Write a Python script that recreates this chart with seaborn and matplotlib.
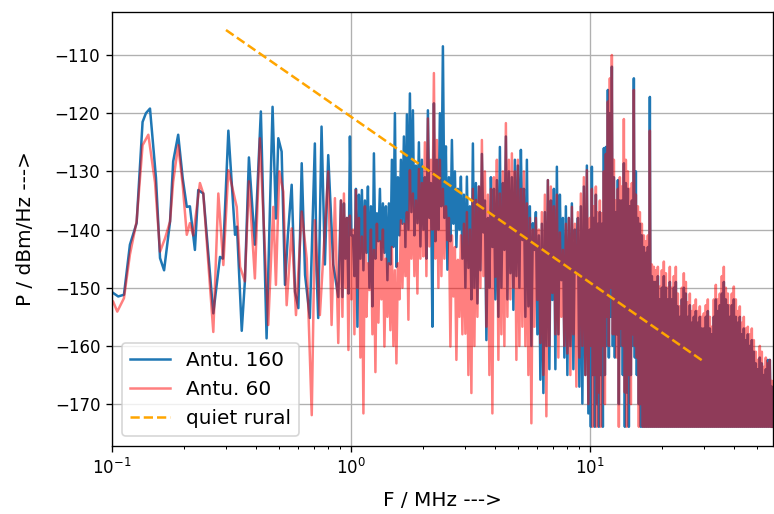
import numpy as np
import matplotlib
matplotlib.use("Agg")
import matplotlib.pyplot as plt
import seaborn as sns

# ---------------- data ----------------
# low band (0.1 .. ~0.9 MHz): log10(frequency / MHz) and level in dBm/Hz
blue_logf_lo = [-0.995, -0.974, -0.950, -0.925, -0.897, -0.872, -0.858, -0.841, -0.816, -0.799,
                -0.782, -0.757, -0.744, -0.723, -0.704, -0.687, -0.674, -0.653, -0.639, -0.618,
                -0.583, -0.576, -0.548, -0.536, -0.513, -0.485, -0.477, -0.457, -0.444, -0.427,
                -0.402, -0.377, -0.353, -0.328, -0.314, -0.304, -0.290, -0.276, -0.264, -0.248,
                -0.234, -0.220, -0.206, -0.192, -0.172, -0.151, -0.144, -0.137, -0.123, -0.109,
                -0.095, -0.074, -0.053]
blue_db_lo = [-150.9, -151.5, -151.2, -142.6, -138.9, -121.5, -120.0, -119.2, -131.1, -144.9,
              -147.0, -138.6, -128.3, -123.7, -131.2, -136.1, -136.0, -143.5, -133.2, -133.8,
              -151.0, -154.4, -144.7, -145.0, -123.0, -140.9, -139.5, -157.4, -149.0, -127.6,
              -142.6, -119.7, -158.7, -118.9, -138.1, -124.3, -126.6, -149.5, -141.0, -132.3,
              -150.7, -153.5, -128.6, -147.8, -155.2, -125.2, -147.0, -155.2, -122.3, -146.0,
              -127.2, -146.0, -151.6]

red_logf_lo = [-0.995, -0.978, -0.950, -0.925, -0.897, -0.872, -0.848, -0.820, -0.799, -0.778,
               -0.757, -0.744, -0.723, -0.704, -0.687, -0.674, -0.660, -0.632, -0.618, -0.576,
               -0.555, -0.534, -0.513, -0.478, -0.464, -0.444, -0.427, -0.402, -0.381, -0.346,
               -0.325, -0.314, -0.300, -0.283, -0.269, -0.248, -0.230, -0.206, -0.185, -0.164,
               -0.151, -0.130, -0.109, -0.095, -0.081, -0.067, -0.053]
red_db_lo = [-152.4, -154.1, -151.8, -144.3, -138.6, -125.5, -123.7, -131.9, -143.8, -141.5,
             -138.6, -131.8, -125.5, -132.4, -140.9, -138.9, -141.0, -132.0, -133.8, -157.6,
             -133.8, -146.1, -129.8, -136.1, -146.4, -148.9, -131.7, -148.4, -124.3, -156.4,
             -136.1, -149.5, -130.0, -133.5, -153.0, -139.8, -154.7, -136.9, -145.0, -171.9,
             -138.4, -154.7, -139.8, -130.0, -156.4, -134.6, -159.5]

# mid band (~0.91 .. ~9.9 MHz): alternating local maxima / minima, bin by bin
MID_START_MHZ = 0.908
MID_STOP_MHZ = 9.856
blue_mid_peaks = [-135, -135.5, -138, -124, -141, -133, -134, -133.2, -135, -132.6,
                  -136, -126.9, -137.2, -133, -135.5, -136, -135.5, -128, -120, -131,
                  -128, -124, -120.2, -116.6, -119.5, -129, -125, -128, -131, -119.5,
                  -132, -118.3, -128, -120, -108.5, -125.7, -131, -124.6, -130, -133,
                  -130.9, -134, -130.9, -136, -125.2, -132, -132.6, -127, -135, -138,
                  -131, -133, -131.5, -125.8, -132, -124, -130, -131, -128, -129,
                  -126.3, -133, -128, -136, -138.9, -137, -141, -139, -137, -131.5,
                  -135, -133, -129.2, -134, -138, -136, -138, -135.5, -140, -138,
                  -136, -132.6, -129]
blue_mid_troughs = [-151.6, -145, -151, -141, -148, -156.7, -145, -147, -144, -150,
                    -153.2, -145, -142, -145.2, -144, -148.7, -146, -143, -146.4, -141,
                    -139, -143, -140, -137, -141, -138.9, -142.9, -140, -145, -138,
                    -156.7, -142, -140, -136, -138, -146.9, -142, -139, -143, -140,
                    -145, -150, -146.6, -152, -150, -152.7, -147, -140.5, -159, -150,
                    -143, -152, -155, -150, -143.5, -152, -147.5, -153.8, -148, -150,
                    -141.8, -155, -153.2, -160, -143.5, -158, -165.8, -168.1, -160, -164,
                    -152.1, -164, -158, -148.7, -162, -165, -160, -164, -147.5, -167,
                    -169.9, -165, -171.6]
red_mid_peaks = [-135, -133.8, -138, -137.6, -140, -133.2, -138, -141.2, -136, -145.8,
                 -140, -143.5, -139, -142, -140, -145, -145.8, -143, -147, -145.8,
                 -138.4, -139, -137, -129.8, -133.8, -135, -129.6, -132, -125, -120.9,
                 -128, -113.1, -124.6, -128, -133, -136, -138, -141, -143, -145.2,
                 -141, -139, -137, -140, -133, -134.9, -132.6, -124.6, -130, -134,
                 -133, -131, -128, -133.8, -130, -121.7, -128, -126.9, -130, -128,
                 -133, -130, -135.5, -138, -140, -138, -140, -137, -134, -131.5,
                 -132.6, -136, -134, -140.5, -143.5, -139, -138, -136.1, -139, -137,
                 -133.8, -131, -129.8]
red_mid_troughs = [-155, -150, -160.7, -152, -158, -150, -162, -171.6, -155, -150.4,
                   -158, -164.5, -156, -152, -160.1, -155, -157.3, -160, -163, -152,
                   -150, -148, -155.5, -145, -148, -151, -145, -144.6, -148, -142.9,
                   -140, -145, -150, -148, -145, -141.8, -160.1, -151.5, -162.4, -155,
                   -158, -157.9, -165, -168.1, -160, -155, -150, -148, -156.7, -165,
                   -171.6, -148.1, -162.4, -158, -160, -155, -152, -150, -162.4, -160,
                   -156.7, -160, -165, -173.3, -156.7, -152.1, -159.5, -165, -172.1, -160,
                   -150.9, -158, -162, -155, -160, -161.3, -165, -158, -167, -162,
                   -160, -165, -170]

# high band (10 .. 58 MHz): dense spectrum, peaks and troughs alternate bin by bin
HF_START_MHZ = 10.0
HF_STOP_MHZ = 58.3
FLOOR_DB = -173.9   # flat floor the spectrum is clipped at

blue_hf_peaks = [-140, -129.2, -138, -134, -139, -137, -139, -126, -125.8, -116,
                 -120, -112, -131, -137, -131.5, -135, -135, -128.6, -132, -133,
                 -136, -135, -114, -130, -138, -139, -141, -143, -144, -143,
                 -117.2, -148, -149, -149, -148, -152, -150, -148, -150, -152,
                 -149, -152, -150, -149, -153.2, -155, -152, -150, -151, -155,
                 -153, -156, -155, -154, -156, -155, -157, -157, -155, -154,
                 -157, -158, -155, -152, -154, -153, -151, -149, -152, -153,
                 -155, -153, -152, -155, -156, -155, -158, -157, -159, -158,
                 -160, -159, -161, -163, -164, -162, -163, -165, -164, -162.4,
                 -162.4, -167]
blue_hf_troughs = [-173.9, -165, -173.9, -170, -173.9, -165, -173.9, -165, -160, -162,
                   -155, -160, -162, -158, -170, -160, -165, -173.9, -168, -173.9,
                   -165, -160, -162, -165, -170, -173.9, -173.9] + [FLOOR_DB] * 65

red_hf_peaks = [-138, -133, -136, -132.6, -137, -135, -137.2, -130, -127, -118,
                -114, -110, -128, -135, -133, -131, -132.6, -121, -128, -130,
                -133, -132, -116, -134, -136, -137, -139, -141, -142, -141,
                -123, -146, -146.4, -147, -146.4, -149.8, -147, -145.5, -147.5, -150,
                -146.4, -150, -148, -146.4, -151, -153.2, -150, -147.5, -149, -152.5,
                -151, -154, -153, -152, -154, -153.2, -155, -154.4, -153, -152,
                -155, -156.7, -152, -149.5, -152, -151, -148, -146.4, -150, -151,
                -153, -151, -149.8, -152, -154, -153.2, -156, -155, -157, -156.7,
                -158, -157, -159, -161, -162.4, -160, -161, -163.6, -162, -163,
                -162.4, -166]
red_hf_troughs = [-160, -173.9, -165, -173.9, -168, -173.9, -160, -170, -155, -160,
                  -150, -158, -158, -162, -173.9, -157, -160, -168, -173.9, -165,
                  -170, -158, -160, -162, -173.9, -170, -173.9] + [FLOOR_DB] * 65

# quiet rural reference line
rural_f = [0.3, 30.0]
rural_db = [-105.7, -162.7]

labels = ["Antu. 160", "Antu. 60", "quiet rural"]


# ---------------- build series ----------------
def interleave(peaks, troughs):
    out = np.empty(len(peaks) + len(troughs))
    out[0::2] = peaks
    out[1::2] = troughs
    return out


mid_freq = np.geomspace(MID_START_MHZ, MID_STOP_MHZ, len(blue_mid_peaks) * 2)
hf_freq = np.geomspace(HF_START_MHZ, HF_STOP_MHZ, len(red_hf_peaks) * 2)

blue_f = np.concatenate([10 ** np.array(blue_logf_lo), mid_freq, hf_freq])
blue_db = np.concatenate([blue_db_lo,
                          interleave(blue_mid_peaks, blue_mid_troughs),
                          interleave(blue_hf_peaks, blue_hf_troughs)])
red_f = np.concatenate([10 ** np.array(red_logf_lo), mid_freq, hf_freq])
red_db = np.concatenate([red_db_lo,
                         interleave(red_mid_peaks, red_mid_troughs),
                         interleave(red_hf_peaks, red_hf_troughs)])

# ---------------- plot ----------------
fig = plt.figure(figsize=(774 / 120, 514 / 120), dpi=120)
ax = fig.add_axes([0.1447, 0.1323, 0.8540, 0.8444])

sns.lineplot(x=blue_f, y=blue_db, ax=ax, color="#1f77b4", linewidth=1.5,
             estimator=None, sort=False, label=labels[0])
sns.lineplot(x=red_f, y=red_db, ax=ax, color="red", alpha=0.5, linewidth=1.5,
             estimator=None, sort=False, label=labels[1])
sns.lineplot(x=rural_f, y=rural_db, ax=ax, color="orange", linestyle="--", linewidth=1.5,
             estimator=None, sort=False, label=labels[2])

ax.set_xscale("log")
ax.set_xlim(0.1, 58.4)
ax.set_ylim(-177.2, -102.6)
ax.set_yticks([-170, -160, -150, -140, -130, -120, -110])
ax.grid(True, which="major", color="#b0b0b0", linewidth=0.8)
ax.set_xlabel("F / MHz --->", fontsize=12, labelpad=8)
ax.set_ylabel("P / dBm/Hz --->", fontsize=12, labelpad=12)
ax.legend(loc="lower left", fontsize=12)

fig.savefig("out.png", dpi=120)
